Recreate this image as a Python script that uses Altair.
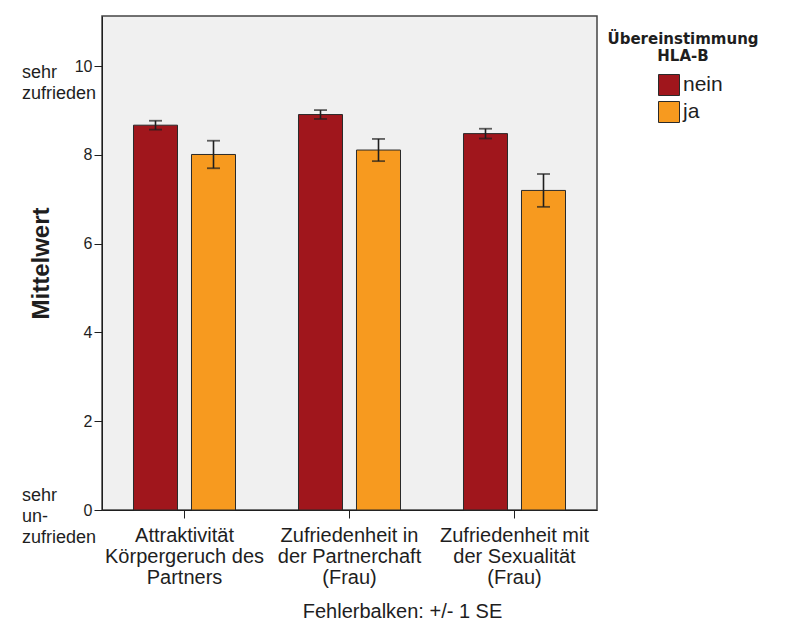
import altair as alt
import pandas as pd

categories = ["Attraktivität\nKörpergeruch des\nPartners",
              "Zufriedenheit in\nder Partnerchaft\n(Frau)",
              "Zufriedenheit mit\nder Sexualität\n(Frau)"]
groups = ["nein", "ja"]
mean_nein = [8.67, 8.91, 8.48]
mean_ja = [8.01, 8.11, 7.20]
se_nein = [0.10, 0.10, 0.11]
se_ja = [0.31, 0.25, 0.37]
colors = ["#a0161c", "#f79a1f"]
y_ticks = [0, 2, 4, 6, 8, 10]
annot_top_value = [10]
annot_top_text = ["sehr\nzufrieden"]
annot_bottom_value = [0]
annot_bottom_text = ["sehr\nun-\nzufrieden"]

FONT = "Liberation Sans"
INK = "#1e1e1e"

rows = []
for i, c in enumerate(categories):
    for g, m, s in (("nein", mean_nein[i], se_nein[i]), ("ja", mean_ja[i], se_ja[i])):
        rows.append({"cat": c, "group": g, "mean": m, "lo": m - s, "hi": m + s})
df = pd.DataFrame(rows)

yscale = alt.Scale(domain=[0, 11.13], nice=False, zero=True)

base = alt.Chart(df).encode(
    x=alt.X("cat:N", sort=categories,
            scale=alt.Scale(paddingInner=0, paddingOuter=0),
            axis=alt.Axis(labelAngle=0, labelFontSize=20, labelLineHeight=21,
                          labelPadding=7, tickSize=8, labelFont=FONT,
                          labelColor=INK, tickColor=INK, domainColor=INK,
                          labelExpr="split(datum.label, '\\n')",
                          title="Fehlerbalken: +/- 1 SE", titleFont=FONT,
                          titleFontSize=20, titleFontWeight="normal",
                          titleColor=INK, titleX=300, titleY=107,
                          titleAlign="center", titleBaseline="alphabetic")),
    xOffset=alt.XOffset("group:N", sort=groups,
                        scale=alt.Scale(paddingInner=0.241, paddingOuter=0.543)),
)

yaxis = alt.Axis(values=y_ticks, tickSize=8, labelFontSize=16, labelPadding=2,
                 labelFont=FONT, labelColor=INK, tickColor=INK, domainColor=INK,
                 grid=False, title="Mittelwert", titleFont=FONT, titleFontSize=24,
                 titleFontWeight="bold", titleColor=INK, titlePadding=21)

bars = base.mark_bar(stroke="#2a2a2a", strokeWidth=1).encode(
    y=alt.Y("mean:Q", scale=yscale, axis=yaxis, title="Mittelwert"),
    color=alt.Color("group:N", sort=groups,
                    scale=alt.Scale(domain=groups, range=colors),
                    legend=alt.Legend(orient="none", legendX=505, legendY=16,
                                      title=["Übereinstimmung", "HLA-B"],
                                      titleFont="DejaVu Sans", titleFontSize=15,
                                      titleLineHeight=17, titleAnchor="middle",
                                      titleAlign="center", titlePadding=10,
                                      titleColor=INK,
                                      symbolType="square", symbolSize=441,
                                      symbolStrokeColor="#2a2a2a",
                                      symbolStrokeWidth=1, symbolOffset=15,
                                      labelFont=FONT, labelFontSize=21,
                                      labelColor=INK, labelOffset=3,
                                      rowPadding=1, padding=0)),
)

rules = base.mark_rule(color=INK, strokeWidth=1.6).encode(
    y=alt.Y("lo:Q", title="Mittelwert"), y2="hi:Q")
cap_hi = base.mark_tick(color=INK, thickness=1.8, size=13).encode(
    y=alt.Y("hi:Q", title="Mittelwert"))
cap_lo = base.mark_tick(color=INK, thickness=1.8, size=13).encode(
    y=alt.Y("lo:Q", title="Mittelwert"))

ann_top = alt.Chart(pd.DataFrame({"v": annot_top_value, "t": annot_top_text})).mark_text(
    align="left", baseline="alphabetic", dy=12, fontSize=18, font=FONT,
    lineHeight=21, lineBreak="\n", color=INK
).encode(y=alt.Y("v:Q", title="Mittelwert"), x=alt.value(-80), text="t:N")

ann_bot = alt.Chart(pd.DataFrame({"v": annot_bottom_value, "t": annot_bottom_text})).mark_text(
    align="left", baseline="alphabetic", dy=-9, fontSize=18, font=FONT,
    lineHeight=21, lineBreak="\n", color=INK
).encode(y=alt.Y("v:Q", title="Mittelwert"), x=alt.value(-80), text="t:N")

chart = alt.layer(bars, rules, cap_hi, cap_lo, ann_top, ann_bot).properties(
    width=495, height=494,
    padding={"left": 14, "top": 8, "right": 5, "bottom": 5},
    background="white",
).configure_view(fill="#f0f0f0", stroke="#444444", strokeWidth=1.5)

chart.save("out.html", embed_options={"renderer": "svg", "actions": False})
